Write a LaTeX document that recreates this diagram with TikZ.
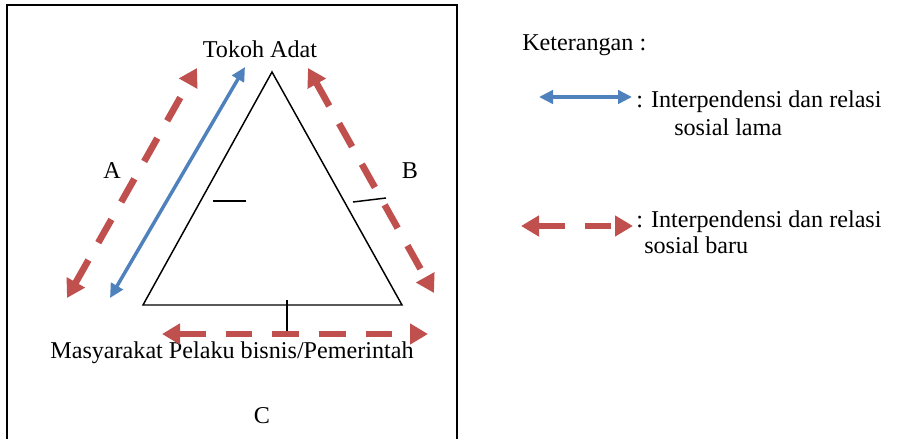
\documentclass[tikz,border=0pt]{standalone}
\usepackage{fontspec}
\setmainfont{Liberation Serif}
\usetikzlibrary{arrows.meta}
\definecolor{oldrel}{RGB}{79,129,189}
\definecolor{newrel}{RGB}{192,80,77}

\begin{document}
\begin{tikzpicture}[x=0.75pt, y=-0.75pt,
    font=\fontsize{18.1}{21}\selectfont,
    lbl/.style={inner sep=0pt, anchor=base},
    legtext/.style={inner sep=0pt, anchor=base west},
    side/.style={line width=1.1pt},
    tick/.style={line width=1.1pt},
    frameline/.style={line width=1.5pt},
    oldarr/.style={{Triangle[length=10.5pt,width=10pt]}-{Triangle[length=10.5pt,width=10pt]},
                   line width=2.6pt, color=oldrel},
    newarr/.style={{Triangle[length=13.5pt,width=15pt]}-{Triangle[length=13.5pt,width=15pt]},
                   line width=5pt, color=newrel, dash pattern=on 20pt off 15pt},
]
\useasboundingbox (0,0) rectangle (914,439);

% ─── Frame (open at the bottom) ──────────────────────────────────
\draw[frameline] (7,450) -- (7,5) -- (457,5) -- (457,450);

% ─── Triangle ────────────────────────────────────────────────────
\coordinate (top) at (272,72);
\coordinate (bl)  at (143,305);
\coordinate (br)  at (402,305);
\draw[side] (top) -- (bl) -- (br) -- cycle;

% tick marks on the three sides
\coordinate (tAa) at (213,201);  \coordinate (tAb) at (246,201);
\coordinate (tBa) at (353,202);  \coordinate (tBb) at (386,198);
\coordinate (tCa) at (287,300);  \coordinate (tCb) at (287,334);
\draw[tick] (tAa) -- (tAb);
\draw[tick] (tBa) -- (tBb);
\draw[tick] (tCa) -- (tCb);

% ─── Labels ──────────────────────────────────────────────────────
\node[lbl] (adat)  at (260,57)  {Tokoh Adat};
\node[lbl] (mas)   at (232,358) {Masyarakat Pelaku bisnis/Pemerintah};
\node[lbl] (labA)  at (112,178) {A};
\node[lbl] (labB)  at (410,178) {B};
\node[lbl] (labC)  at (262,423) {C};

% ─── Relations ───────────────────────────────────────────────────
% old relation along side A
\coordinate (oA1) at (110,298);
\coordinate (oA2) at (245,67);
\draw[oldarr] (oA1) -- (oA2);

% new relations along A, B and C
\coordinate (nA1) at (67,298);   \coordinate (nA2) at (197,68);
\coordinate (nB1) at (308,68);   \coordinate (nB2) at (434,293);
\coordinate (nC1) at (162,334);  \coordinate (nC2) at (428,334);
\draw[newarr] (nA1) -- (nA2);
\draw[newarr] (nB1) -- (nB2);
\draw[newarr] (nC1) -- (nC2);

% ─── Legend ──────────────────────────────────────────────────────
\node[legtext] (ket) at (522,50) {Keterangan :};

\coordinate (lo1) at (539,97);  \coordinate (lo2) at (632,97);
\draw[oldarr] (lo1) -- (lo2);
\node[legtext] (lamaA) at (636,107) {: Interpendensi dan relasi};
\node[legtext] (lamaB) at (674,135) {sosial lama};

\coordinate (ln1) at (521,226); \coordinate (ln2) at (633,226);
\draw[newarr] (ln1) -- (ln2);
\node[legtext] (baruA) at (636,227) {: Interpendensi dan relasi};
\node[legtext] (baruB) at (644,253) {sosial baru};

\end{tikzpicture}
\end{document}
